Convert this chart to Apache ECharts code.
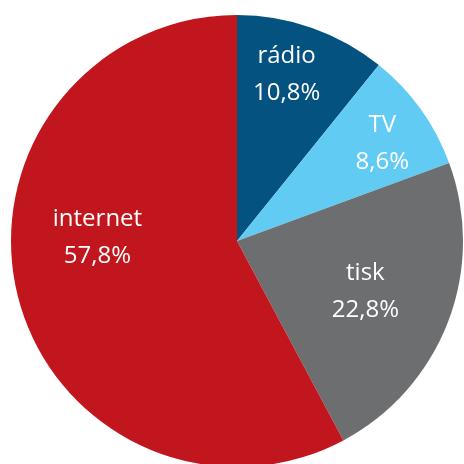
<!DOCTYPE html>
<html><head><meta charset="utf-8">
<script src="https://cdn.jsdelivr.net/npm/echarts@6/dist/echarts.min.js"></script>
<style>html,body{margin:0;padding:0;background:#fff}#c{width:464px;height:464px}</style>
</head><body><div id="c"></div>
<script>
const categories = ['rádio', 'TV', 'tisk', 'internet'];
const values = [10.8, 8.6, 22.8, 57.8];
const colors = ['#03527F', '#62CBF4', '#6D6E70', '#C1161E'];
const labelOffsets = [[11, -57], [51, -30], [20, 9], [-27, -31]];

const chart = echarts.init(document.getElementById('c'));
chart.setOption({
  animation: false,
  series: [{
    type: 'pie',
    center: [237, 241],
    radius: 226,
    startAngle: 90,
    clockwise: true,
    label: {
      position: 'inside',
      color: '#fff',
      fontSize: 24,
      lineHeight: 37,
      fontFamily: 'Open Sans',
      formatter: p => p.name + '\n' + String(p.value).replace('.', ',') + '%'
    },
    labelLine: { show: false },
    itemStyle: { borderWidth: 0 },
    data: categories.map((n, i) => ({
      name: n, value: values[i],
      itemStyle: { color: colors[i] },
      label: { offset: labelOffsets[i] }
    }))
  }]
});
</script></body></html>
